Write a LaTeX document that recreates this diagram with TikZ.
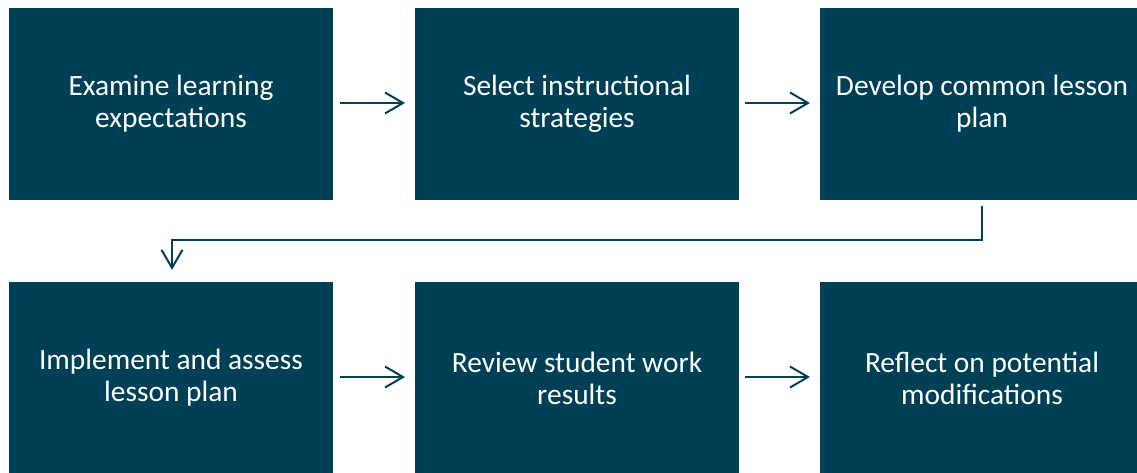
\documentclass[tikz,border=0pt]{standalone}
\usepackage{fontspec}
\setmainfont{Carlito}
\usetikzlibrary{arrows.meta}
\definecolor{boxblue}{RGB}{0,64,86}
\begin{document}
\begin{tikzpicture}[x=1pt,y=-1pt,
  stepbox/.style={fill=boxblue, draw=none, text=white, minimum width=324pt, minimum height=192pt,
    inner sep=0pt, align=center, font=\fontsize{29.4}{32}\selectfont},
  conn/.style={draw=boxblue, line width=2pt, -{Straight Barb[length=18pt,width=21pt,line width=2pt]}}]
\useasboundingbox (0,0) rectangle (1137,473);
\node[stepbox] (a) at (171,104) {Examine learning\\expectations};
\node[stepbox] (b) at (577,104) {Select instructional\\strategies};
\node[stepbox] (c) at (982,104) {Develop common lesson\\plan};
\node[stepbox] (d) at (171,378) {Implement and assess\\lesson plan};
\node[stepbox] (e) at (577,378) {Review student work\\results};
\node[stepbox] (f) at (982,378) {Reflect on potential\\modifications};
\draw[conn] (340,103) -- (405,103);
\draw[conn] (745,103) -- (810,103);
\draw[conn] (340,377) -- (405,377);
\draw[conn] (745,377) -- (810,377);
\coordinate (c1) at (982,240);
\coordinate (c2) at (172,240);
\draw[conn] ([yshift=-6pt]c.south) -- (c1) -- (c2) -- ([yshift=12pt]d.north -| c2);
\end{tikzpicture}
\end{document}
